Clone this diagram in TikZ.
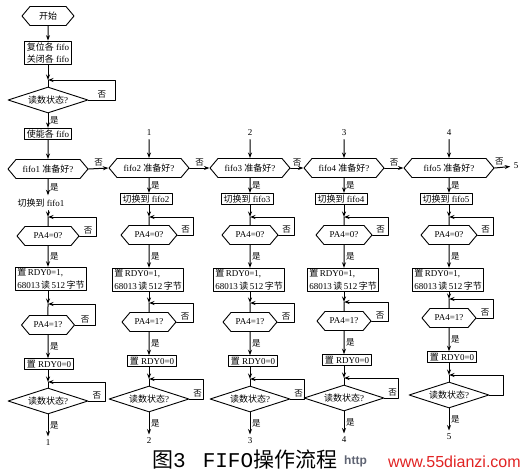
\documentclass[tikz,border=0pt]{standalone}
\usepackage{fontspec}
\setmainfont{Liberation Serif}
\newfontfamily\cjk{Noto Sans CJK SC}
\newfontfamily\mono{Liberation Mono}
\newfontfamily\web{Liberation Sans}
\usetikzlibrary{arrows.meta, shapes.symbols, shapes.geometric}
\newcommand{\zh}[1]{{\cjk #1}}
\definecolor{rossoweb}{RGB}{225,35,35}
\definecolor{grigioweb}{RGB}{95,100,115}

\tikzset{
  esagono/.style={draw, line width=0.9pt, signal, signal to=west and east, signal pointer angle=100,
    inner sep=1pt, minimum height=19pt},
  rombo/.style={draw, line width=0.9pt, diamond, aspect=3, inner sep=0pt,
    minimum width=80pt, minimum height=26pt},
  blocco/.style={draw, line width=0.9pt, rectangle, inner xsep=2pt, inner ysep=1.5pt, align=left},
  freccia/.style={->, line width=1pt},
  linea/.style={line width=1pt},
  etich/.style={font=\cjk\fontsize{8.5}{9}\selectfont, inner sep=1.5pt},
}

\begin{document}
\begin{tikzpicture}[x=1pt, y=-1pt, line cap=round, line join=round,
  >={Stealth[length=5.5pt, width=4pt]},
  every node/.append style={font=\fontsize{9}{12.5}\selectfont}]
\useasboundingbox (0,0) rectangle (523,475);

% colonna 1
\node[esagono, minimum width=52pt] (ini) at (48,16) {\zh{开始}};
\node[blocco] (res) at (48,53) {\zh{复位各} fifo\\\zh{关闭各} fifo};
\coordinate (g0) at (48,80);
\node[rombo] (rd0) at (48,100) {\zh{读数状态}?};
\node[blocco] (abi) at (48,134) {\zh{使能各} fifo};
\node[esagono, minimum width=80pt] (ff1) at (48,169) {fifo1 \zh{准备好}?};
\node (sw1) at (41,203) {\zh{切换到} fifo1};
\coordinate (g11) at (48,217);
\node[esagono, minimum width=62pt] (pa01) at (48,236) {PA4=0?};
\node[blocco, minimum width=62pt] (r11) at (51,279) {\zh{置}\,RDY0=1,\\68013\,\zh{读}\,512\,\zh{字节}};
\coordinate (g21) at (48,304);
\node[esagono, minimum width=53pt] (pa11) at (48,325) {PA4=1?};
\node[blocco] (r01) at (49,364) {\zh{置} RDY0=0};
\coordinate (g31) at (48,382);
\node[rombo] (rd1) at (48,401) {\zh{读数状态}?};
\node (out1) at (48,443) {1};

\draw[freccia] (ini) -- (res);
\draw[freccia] (res) -- (g0);
\draw[linea] (g0) -- (rd0);
\draw[freccia] (rd0.east) -- ++(27,0) node[etich, midway, above] (n0) {否} |- (g0);
\draw[freccia] (rd0) -- node[etich, right] (s0) {是} (abi);
\draw[freccia] (abi) -- (ff1);
\draw[freccia] (ff1) -- node[etich, right] (s1) {是} (ff1 |- sw1.north);
\draw[freccia] (ff1 |- sw1.south) -- (g11);
\draw[linea] (g11) -- (pa01);
\draw[freccia] (pa01.east) -- ++(17,0) node[etich, midway, above] (n1) {否} |- (g11);
\draw[freccia] (pa01) -- node[etich, right] (s2) {是} (pa01 |- r11.north);
\draw[freccia] (pa01 |- r11.south) -- (g21);
\draw[linea] (g21) -- (pa11);
\draw[freccia] (pa11.east) -- ++(20,0) node[etich, midway, above] (n2) {否} |- (g21);
\draw[freccia] (pa11) -- node[etich, right] (s3) {是} (pa11 |- r01.north);
\draw[freccia] (pa11 |- r01.south) -- (g31);
\draw[linea] (g31) -- (rd1);
\draw[freccia] (rd1.east) -- ++(17,0) node[etich, midway, above] (n3) {否} |- (g31);
\draw[freccia] (rd1) -- node[etich, right] (s4) {是} (out1);

% colonne 2--5
\foreach \i/\x/\d/\w in {2/149/0/80, 3/250/0/80, 4/344/-1/80, 5/449/-4/90}{
  \pgfmathtruncatemacro{\p}{\i-1}
  \node (lab\i) at (\x,133) {\p};
  \node[esagono, minimum width=\w pt] (ff\i) at (\x,168) {fifo\i\ \zh{准备好}?};
  \node[blocco, minimum width=52pt] (sw\i) at (\x-3,199) {\zh{切换到} fifo\i};
  \coordinate (g1\i) at (\x,217);
  \node[esagono, minimum width=56pt] (pa0\i) at (\x,235) {PA4=0?};
  \node[blocco, minimum width=61pt] (r1\i) at (\x-1,280) {\zh{置}\,RDY0=1,\\68013\,\zh{读}\,512\,\zh{字节}};
  \coordinate (g2\i) at (\x,303+\d);
  \node[esagono, minimum width=54pt] (pa1\i) at (\x,322+\d) {PA4=1?};
  \node[blocco, minimum width=46pt] (r0\i) at (\x+3,361+\d) {\zh{置} RDY0=0};
  \coordinate (g3\i) at (\x,379+\d);
  \node[rombo] (rd\i) at (\x,399+\d) {\zh{读数状态}?};
  \node (out\i) at (\x,441+\d) {\i};

  \draw[freccia] (lab\i) -- (ff\i);
  \draw[freccia] (ff\p.east) -- node[etich, above] (nh\i) {否} (ff\i.west);
  \draw[freccia] (ff\i) -- node[etich, right] (sh\i) {是} (ff\i |- sw\i.north);
  \draw[freccia] (ff\i |- sw\i.south) -- (g1\i);
  \draw[linea] (g1\i) -- (pa0\i);
  \draw[freccia] (pa0\i.east) -- ++(16,0) node[etich, midway, above] (na\i) {否} |- (g1\i);
  \draw[freccia] (pa0\i) -- node[etich, right] (sa\i) {是} (pa0\i |- r1\i.north);
  \draw[freccia] (pa0\i |- r1\i.south) -- (g2\i);
  \draw[linea] (g2\i) -- (pa1\i);
  \draw[freccia] (pa1\i.east) -- ++(17,0) node[etich, midway, above] (nb\i) {否} |- (g2\i);
  \draw[freccia] (pa1\i) -- node[etich, right] (sb\i) {是} (pa1\i |- r0\i.north);
  \draw[freccia] (pa1\i |- r0\i.south) -- (g3\i);
  \draw[linea] (g3\i) -- (rd\i);
  \draw[freccia] (rd\i.east) -- ++(14,0) coordinate (q\i) |- (g3\i);
  \ifnum\i<5 \node[etich, above left] (nc\i) at (q\i) {否}; \fi
  \draw[freccia] (rd\i) -- node[etich, right] (sc\i) {是} (out\i);
}

% uscita a destra
\node (out6) at (516,166) {5};
\draw[freccia] (ff5.east) -- node[etich, above, pos=0.3] (nh6) {否} (out6);

% didascalia
\node[anchor=west, inner sep=0pt, font=\fontsize{21}{21}\selectfont] (cap) at (152,460)
  {{\cjk 图}{\mono 3}\hspace{17pt}{\mono FIFO}{\cjk 操作流程}};
\node[anchor=west, inner sep=0pt, text=grigioweb, font=\web\bfseries\fontsize{12}{12}\selectfont] (url) at (344,461) {http};
\node[anchor=west, inner sep=0pt, text=rossoweb, font=\web\fontsize{16}{16}\selectfont] (www) at (388,462) {www.55dianzi.com};
\end{tikzpicture}
\end{document}
